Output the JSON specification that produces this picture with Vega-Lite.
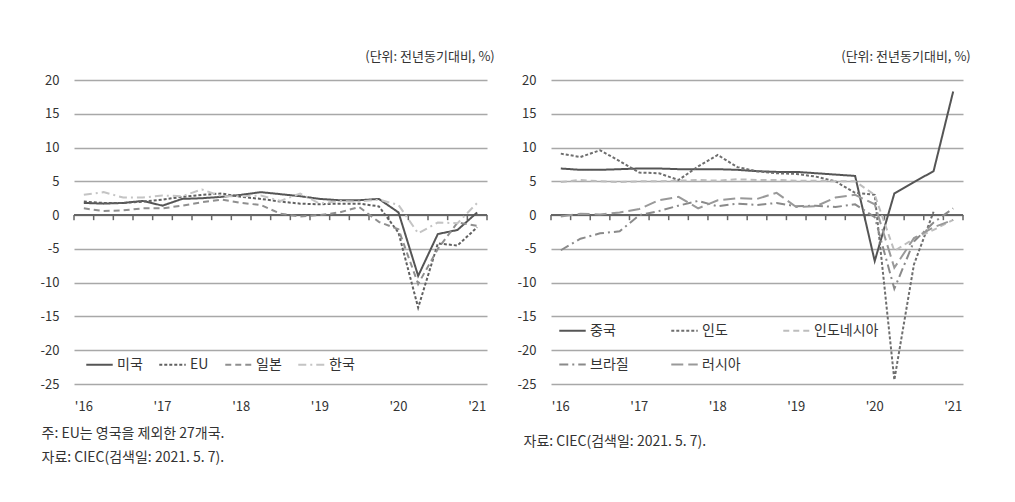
{
  "$schema": "https://vega.github.io/schema/vega-lite/v6.json",
  "background": "white",
  "padding": {"left": 40, "top": 51, "right": 10, "bottom": 5},
  "spacing": 22,
  "resolve": {"scale": {"color": "independent", "strokeDash": "independent"}, "legend": {"color": "independent", "strokeDash": "independent"}},
  "config": {
    "font": "Noto Sans CJK KR",
    "view": {"stroke": null},
    "title": {"fontSize": 13, "fontWeight": "normal", "color": "#333333", "anchor": "end", "offset": 10, "dx": 7},
    "axisX": {
      "labelExpr": "indexof(datum.value,'Q1') > 0 ? \"'\" + slice(datum.value,2,4) : ''",
      "labelAngle": 0, "ticks": false, "domain": false, "grid": false, "labelPadding": 16,
      "labelFontSize": 13, "labelColor": "#333333", "labelOverlap": false,
      "titleFontSize": 14, "titleFontWeight": "normal", "titleColor": "#333333",
      "titleAnchor": "start", "titleAlign": "left", "titleX": -33, "titleLineHeight": 24, "titlePadding": 13
    },
    "axisY": {
      "grid": true, "gridColor": "#a8a8a8", "gridWidth": 1.5, "domain": false, "ticks": false,
      "labelPadding": 15, "labelFontSize": 13, "labelColor": "#333333",
      "labelExpr": "replace(datum.label, '\u2212', '-')"
    },
    "legend": {
      "orient": "none", "direction": "horizontal", "symbolType": "stroke", "symbolSize": 700, "symbolStrokeWidth": 2,
      "labelFontSize": 14, "labelColor": "#333333", "labelOffset": 3
    }
  },
  "datasets": {
    "dl": [
      {"q": "2016Q1", "s": "미국", "v": 1.8}, {"q": "2016Q2", "s": "미국", "v": 1.7}, {"q": "2016Q3", "s": "미국", "v": 1.8}, {"q": "2016Q4", "s": "미국", "v": 2.1},
      {"q": "2017Q1", "s": "미국", "v": 1.4}, {"q": "2017Q2", "s": "미국", "v": 2.4}, {"q": "2017Q3", "s": "미국", "v": 2.5}, {"q": "2017Q4", "s": "미국", "v": 2.7},
      {"q": "2018Q1", "s": "미국", "v": 3.0}, {"q": "2018Q2", "s": "미국", "v": 3.4}, {"q": "2018Q3", "s": "미국", "v": 3.1}, {"q": "2018Q4", "s": "미국", "v": 2.8},
      {"q": "2019Q1", "s": "미국", "v": 2.4}, {"q": "2019Q2", "s": "미국", "v": 2.2}, {"q": "2019Q3", "s": "미국", "v": 2.2}, {"q": "2019Q4", "s": "미국", "v": 2.4},
      {"q": "2020Q1", "s": "미국", "v": 0.4}, {"q": "2020Q2", "s": "미국", "v": -9.0}, {"q": "2020Q3", "s": "미국", "v": -2.8}, {"q": "2020Q4", "s": "미국", "v": -2.2},
      {"q": "2021Q1", "s": "미국", "v": 0.4},
      {"q": "2016Q1", "s": "EU", "v": 2.0}, {"q": "2016Q2", "s": "EU", "v": 1.8}, {"q": "2016Q3", "s": "EU", "v": 1.8}, {"q": "2016Q4", "s": "EU", "v": 2.0},
      {"q": "2017Q1", "s": "EU", "v": 2.3}, {"q": "2017Q2", "s": "EU", "v": 2.7}, {"q": "2017Q3", "s": "EU", "v": 3.0}, {"q": "2017Q4", "s": "EU", "v": 3.2},
      {"q": "2018Q1", "s": "EU", "v": 2.7}, {"q": "2018Q2", "s": "EU", "v": 2.4}, {"q": "2018Q3", "s": "EU", "v": 2.0}, {"q": "2018Q4", "s": "EU", "v": 1.7},
      {"q": "2019Q1", "s": "EU", "v": 1.6}, {"q": "2019Q2", "s": "EU", "v": 1.7}, {"q": "2019Q3", "s": "EU", "v": 1.7}, {"q": "2019Q4", "s": "EU", "v": 1.3},
      {"q": "2020Q1", "s": "EU", "v": -2.6}, {"q": "2020Q2", "s": "EU", "v": -13.7}, {"q": "2020Q3", "s": "EU", "v": -4.2}, {"q": "2020Q4", "s": "EU", "v": -4.5},
      {"q": "2021Q1", "s": "EU", "v": -1.8},
      {"q": "2016Q1", "s": "일본", "v": 1.0}, {"q": "2016Q2", "s": "일본", "v": 0.6}, {"q": "2016Q3", "s": "일본", "v": 0.7}, {"q": "2016Q4", "s": "일본", "v": 1.0},
      {"q": "2017Q1", "s": "일본", "v": 1.0}, {"q": "2017Q2", "s": "일본", "v": 1.4}, {"q": "2017Q3", "s": "일본", "v": 1.9}, {"q": "2017Q4", "s": "일본", "v": 2.3},
      {"q": "2018Q1", "s": "일본", "v": 1.8}, {"q": "2018Q2", "s": "일본", "v": 1.5}, {"q": "2018Q3", "s": "일본", "v": 0.2}, {"q": "2018Q4", "s": "일본", "v": -0.2},
      {"q": "2019Q1", "s": "일본", "v": 0.0}, {"q": "2019Q2", "s": "일본", "v": 0.4}, {"q": "2019Q3", "s": "일본", "v": 1.2}, {"q": "2019Q4", "s": "일본", "v": -1.0},
      {"q": "2020Q1", "s": "일본", "v": -2.1}, {"q": "2020Q2", "s": "일본", "v": -10.2}, {"q": "2020Q3", "s": "일본", "v": -5.0}, {"q": "2020Q4", "s": "일본", "v": -1.1},
      {"q": "2021Q1", "s": "일본", "v": -1.6},
      {"q": "2016Q1", "s": "한국", "v": 3.0}, {"q": "2016Q2", "s": "한국", "v": 3.4}, {"q": "2016Q3", "s": "한국", "v": 2.6}, {"q": "2016Q4", "s": "한국", "v": 2.6},
      {"q": "2017Q1", "s": "한국", "v": 2.9}, {"q": "2017Q2", "s": "한국", "v": 2.8}, {"q": "2017Q3", "s": "한국", "v": 3.8}, {"q": "2017Q4", "s": "한국", "v": 2.8},
      {"q": "2018Q1", "s": "한국", "v": 2.8}, {"q": "2018Q2", "s": "한국", "v": 2.9}, {"q": "2018Q3", "s": "한국", "v": 2.1}, {"q": "2018Q4", "s": "한국", "v": 3.2},
      {"q": "2019Q1", "s": "한국", "v": 1.7}, {"q": "2019Q2", "s": "한국", "v": 2.1}, {"q": "2019Q3", "s": "한국", "v": 2.0}, {"q": "2019Q4", "s": "한국", "v": 2.3},
      {"q": "2020Q1", "s": "한국", "v": 1.5}, {"q": "2020Q2", "s": "한국", "v": -2.7}, {"q": "2020Q3", "s": "한국", "v": -1.1}, {"q": "2020Q4", "s": "한국", "v": -1.2},
      {"q": "2021Q1", "s": "한국", "v": 1.8}
    ],
    "dr": [
      {"q": "2016Q1", "s": "중국", "v": 6.9}, {"q": "2016Q2", "s": "중국", "v": 6.7}, {"q": "2016Q3", "s": "중국", "v": 6.7}, {"q": "2016Q4", "s": "중국", "v": 6.8},
      {"q": "2017Q1", "s": "중국", "v": 6.9}, {"q": "2017Q2", "s": "중국", "v": 6.9}, {"q": "2017Q3", "s": "중국", "v": 6.8}, {"q": "2017Q4", "s": "중국", "v": 6.8},
      {"q": "2018Q1", "s": "중국", "v": 6.8}, {"q": "2018Q2", "s": "중국", "v": 6.7}, {"q": "2018Q3", "s": "중국", "v": 6.5}, {"q": "2018Q4", "s": "중국", "v": 6.4},
      {"q": "2019Q1", "s": "중국", "v": 6.4}, {"q": "2019Q2", "s": "중국", "v": 6.2}, {"q": "2019Q3", "s": "중국", "v": 6.0}, {"q": "2019Q4", "s": "중국", "v": 5.8},
      {"q": "2020Q1", "s": "중국", "v": -6.8}, {"q": "2020Q2", "s": "중국", "v": 3.2}, {"q": "2020Q3", "s": "중국", "v": 4.9}, {"q": "2020Q4", "s": "중국", "v": 6.5},
      {"q": "2021Q1", "s": "중국", "v": 18.3},
      {"q": "2016Q1", "s": "인도", "v": 9.1}, {"q": "2016Q2", "s": "인도", "v": 8.6}, {"q": "2016Q3", "s": "인도", "v": 9.6}, {"q": "2016Q4", "s": "인도", "v": 8.0},
      {"q": "2017Q1", "s": "인도", "v": 6.3}, {"q": "2017Q2", "s": "인도", "v": 6.2}, {"q": "2017Q3", "s": "인도", "v": 5.2}, {"q": "2017Q4", "s": "인도", "v": 7.2},
      {"q": "2018Q1", "s": "인도", "v": 8.9}, {"q": "2018Q2", "s": "인도", "v": 7.1}, {"q": "2018Q3", "s": "인도", "v": 6.5}, {"q": "2018Q4", "s": "인도", "v": 6.2},
      {"q": "2019Q1", "s": "인도", "v": 6.1}, {"q": "2019Q2", "s": "인도", "v": 5.7}, {"q": "2019Q3", "s": "인도", "v": 5.0}, {"q": "2019Q4", "s": "인도", "v": 3.3},
      {"q": "2020Q1", "s": "인도", "v": 3.0}, {"q": "2020Q2", "s": "인도", "v": -24.4}, {"q": "2020Q3", "s": "인도", "v": -7.3}, {"q": "2020Q4", "s": "인도", "v": 0.5},
      {"q": "2016Q1", "s": "인도네시아", "v": 4.9}, {"q": "2016Q2", "s": "인도네시아", "v": 5.2}, {"q": "2016Q3", "s": "인도네시아", "v": 5.0}, {"q": "2016Q4", "s": "인도네시아", "v": 4.9},
      {"q": "2017Q1", "s": "인도네시아", "v": 5.0}, {"q": "2017Q2", "s": "인도네시아", "v": 5.0}, {"q": "2017Q3", "s": "인도네시아", "v": 5.1}, {"q": "2017Q4", "s": "인도네시아", "v": 5.2},
      {"q": "2018Q1", "s": "인도네시아", "v": 5.1}, {"q": "2018Q2", "s": "인도네시아", "v": 5.3}, {"q": "2018Q3", "s": "인도네시아", "v": 5.2}, {"q": "2018Q4", "s": "인도네시아", "v": 5.2},
      {"q": "2019Q1", "s": "인도네시아", "v": 5.1}, {"q": "2019Q2", "s": "인도네시아", "v": 5.1}, {"q": "2019Q3", "s": "인도네시아", "v": 5.0}, {"q": "2019Q4", "s": "인도네시아", "v": 5.0},
      {"q": "2020Q1", "s": "인도네시아", "v": 3.0}, {"q": "2020Q2", "s": "인도네시아", "v": -5.3}, {"q": "2020Q3", "s": "인도네시아", "v": -3.5}, {"q": "2020Q4", "s": "인도네시아", "v": -2.2},
      {"q": "2021Q1", "s": "인도네시아", "v": -0.7},
      {"q": "2016Q1", "s": "브라질", "v": -5.2}, {"q": "2016Q2", "s": "브라질", "v": -3.5}, {"q": "2016Q3", "s": "브라질", "v": -2.7}, {"q": "2016Q4", "s": "브라질", "v": -2.4},
      {"q": "2017Q1", "s": "브라질", "v": 0.0}, {"q": "2017Q2", "s": "브라질", "v": 0.6}, {"q": "2017Q3", "s": "브라질", "v": 1.4}, {"q": "2017Q4", "s": "브라질", "v": 2.1},
      {"q": "2018Q1", "s": "브라질", "v": 1.3}, {"q": "2018Q2", "s": "브라질", "v": 1.7}, {"q": "2018Q3", "s": "브라질", "v": 1.5}, {"q": "2018Q4", "s": "브라질", "v": 1.8},
      {"q": "2019Q1", "s": "브라질", "v": 1.3}, {"q": "2019Q2", "s": "브라질", "v": 1.4}, {"q": "2019Q3", "s": "브라질", "v": 1.2}, {"q": "2019Q4", "s": "브라질", "v": 1.6},
      {"q": "2020Q1", "s": "브라질", "v": -0.3}, {"q": "2020Q2", "s": "브라질", "v": -10.9}, {"q": "2020Q3", "s": "브라질", "v": -3.9}, {"q": "2020Q4", "s": "브라질", "v": -1.1},
      {"q": "2021Q1", "s": "브라질", "v": 1.0},
      {"q": "2016Q1", "s": "러시아", "v": -0.2}, {"q": "2016Q2", "s": "러시아", "v": 0.2}, {"q": "2016Q3", "s": "러시아", "v": 0.1}, {"q": "2016Q4", "s": "러시아", "v": 0.4},
      {"q": "2017Q1", "s": "러시아", "v": 0.9}, {"q": "2017Q2", "s": "러시아", "v": 2.2}, {"q": "2017Q3", "s": "러시아", "v": 2.7}, {"q": "2017Q4", "s": "러시아", "v": 1.0},
      {"q": "2018Q1", "s": "러시아", "v": 2.2}, {"q": "2018Q2", "s": "러시아", "v": 2.5}, {"q": "2018Q3", "s": "러시아", "v": 2.4}, {"q": "2018Q4", "s": "러시아", "v": 3.3},
      {"q": "2019Q1", "s": "러시아", "v": 1.2}, {"q": "2019Q2", "s": "러시아", "v": 1.3}, {"q": "2019Q3", "s": "러시아", "v": 2.6}, {"q": "2019Q4", "s": "러시아", "v": 3.0},
      {"q": "2020Q1", "s": "러시아", "v": 1.6}, {"q": "2020Q2", "s": "러시아", "v": -7.8}, {"q": "2020Q3", "s": "러시아", "v": -3.4}, {"q": "2020Q4", "s": "러시아", "v": -1.8},
      {"q": "2021Q1", "s": "러시아", "v": -0.7}
    ]
  },
  "hconcat": [
    {
      "width": 413,
      "height": 304,
      "data": {"name": "dl"},
      "title": "(단위: 전년동기대비, %)",
      "layer": [
        {
          "mark": {"type": "rule", "color": "#666666", "strokeWidth": 1.5},
          "encoding": {"y": {"datum": 0, "type": "quantitative", "title": null}}
        },
        {
          "transform": [{"filter": "datum.s === '미국'"}],
          "mark": {"type": "rule", "color": "#666666", "strokeWidth": 1.5},
          "encoding": {
            "x": {"field": "q", "type": "ordinal", "bandPosition": 0, "scale": {"type": "band", "paddingInner": 0, "paddingOuter": 0}, "title": ["주: EU는 영국을 제외한 27개국.", "자료: CIEC(검색일: 2021. 5. 7)."]},
            "y": {"datum": 0, "type": "quantitative", "title": null},
            "y2": {"datum": -0.75}
          }
        },
        {
          "transform": [{"filter": "datum.s === '미국' && datum.q === '2021Q1'"}],
          "mark": {"type": "rule", "color": "#666666", "strokeWidth": 1.5},
          "encoding": {
            "x": {"field": "q", "type": "ordinal", "bandPosition": 1, "scale": {"type": "band", "paddingInner": 0, "paddingOuter": 0}, "title": ["주: EU는 영국을 제외한 27개국.", "자료: CIEC(검색일: 2021. 5. 7)."]},
            "y": {"datum": 0, "type": "quantitative", "title": null},
            "y2": {"datum": -0.75}
          }
        },
        {
          "mark": {"type": "line", "strokeWidth": 2},
          "encoding": {
            "x": {"field": "q", "type": "ordinal", "bandPosition": 0.5, "scale": {"type": "band", "paddingInner": 0, "paddingOuter": 0}, "title": ["주: EU는 영국을 제외한 27개국.", "자료: CIEC(검색일: 2021. 5. 7)."]},
            "y": {"field": "v", "type": "quantitative", "title": null, "scale": {"domain": [-25, 20], "nice": false}},
            "color": {
              "field": "s", "type": "nominal",
              "scale": {"domain": ["미국", "EU", "일본", "한국"], "range": ["#555555", "#606060", "#8f8f8f", "#c4c4c4"]},
              "legend": {"legendX": 11, "legendY": 270, "columns": 4, "title": null, "columnPadding": 12}
            },
            "strokeDash": {
              "field": "s", "type": "nominal",
              "scale": {"domain": ["미국", "EU", "일본", "한국"], "range": [[1, 0], [3, 2], [6, 4], [8, 4, 2, 4]]},
              "legend": {"legendX": 11, "legendY": 270, "columns": 4, "title": null, "columnPadding": 12}
            }
          }
        }
      ]
    },
    {
      "width": 412,
      "height": 304,
      "data": {"name": "dr"},
      "title": "(단위: 전년동기대비, %)",
      "layer": [
        {
          "mark": {"type": "rule", "color": "#666666", "strokeWidth": 1.5},
          "encoding": {"y": {"datum": 0, "type": "quantitative", "title": null}}
        },
        {
          "transform": [{"filter": "datum.s === '중국'"}],
          "mark": {"type": "rule", "color": "#666666", "strokeWidth": 1.5},
          "encoding": {
            "x": {"field": "q", "type": "ordinal", "bandPosition": 0, "scale": {"type": "band", "paddingInner": 0, "paddingOuter": 0}, "title": "자료: CIEC(검색일: 2021. 5. 7).", "axis": {"titlePadding": 21, "titleX": -28}},
            "y": {"datum": 0, "type": "quantitative", "title": null},
            "y2": {"datum": -0.75}
          }
        },
        {
          "transform": [{"filter": "datum.s === '중국' && datum.q === '2021Q1'"}],
          "mark": {"type": "rule", "color": "#666666", "strokeWidth": 1.5},
          "encoding": {
            "x": {"field": "q", "type": "ordinal", "bandPosition": 1, "scale": {"type": "band", "paddingInner": 0, "paddingOuter": 0}, "title": "자료: CIEC(검색일: 2021. 5. 7).", "axis": {"titlePadding": 21, "titleX": -28}},
            "y": {"datum": 0, "type": "quantitative", "title": null},
            "y2": {"datum": -0.75}
          }
        },
        {
          "mark": {"type": "line", "strokeWidth": 2},
          "encoding": {
            "x": {"field": "q", "type": "ordinal", "bandPosition": 0.5, "scale": {"type": "band", "paddingInner": 0, "paddingOuter": 0}, "title": "자료: CIEC(검색일: 2021. 5. 7).", "axis": {"titlePadding": 21, "titleX": -28}},
            "y": {"field": "v", "type": "quantitative", "title": null, "scale": {"domain": [-25, 20], "nice": false}},
            "color": {
              "field": "s", "type": "nominal",
              "scale": {"domain": ["중국", "인도", "인도네시아", "브라질", "러시아"], "range": ["#555555", "#6e6e6e", "#bdbdbd", "#8a8a8a", "#999999"]},
              "legend": {"legendX": 7, "legendY": 236, "columns": 3, "title": null, "columnPadding": 38, "rowPadding": 12, "gridAlign": "each"}
            },
            "strokeDash": {
              "field": "s", "type": "nominal",
              "scale": {"domain": ["중국", "인도", "인도네시아", "브라질", "러시아"], "range": [[1, 0], [3, 2], [6, 4], [9, 4, 2, 4], [12, 5]]},
              "legend": {"legendX": 7, "legendY": 236, "columns": 3, "title": null, "columnPadding": 38, "rowPadding": 12, "gridAlign": "each"}
            }
          }
        }
      ]
    }
  ]
}
